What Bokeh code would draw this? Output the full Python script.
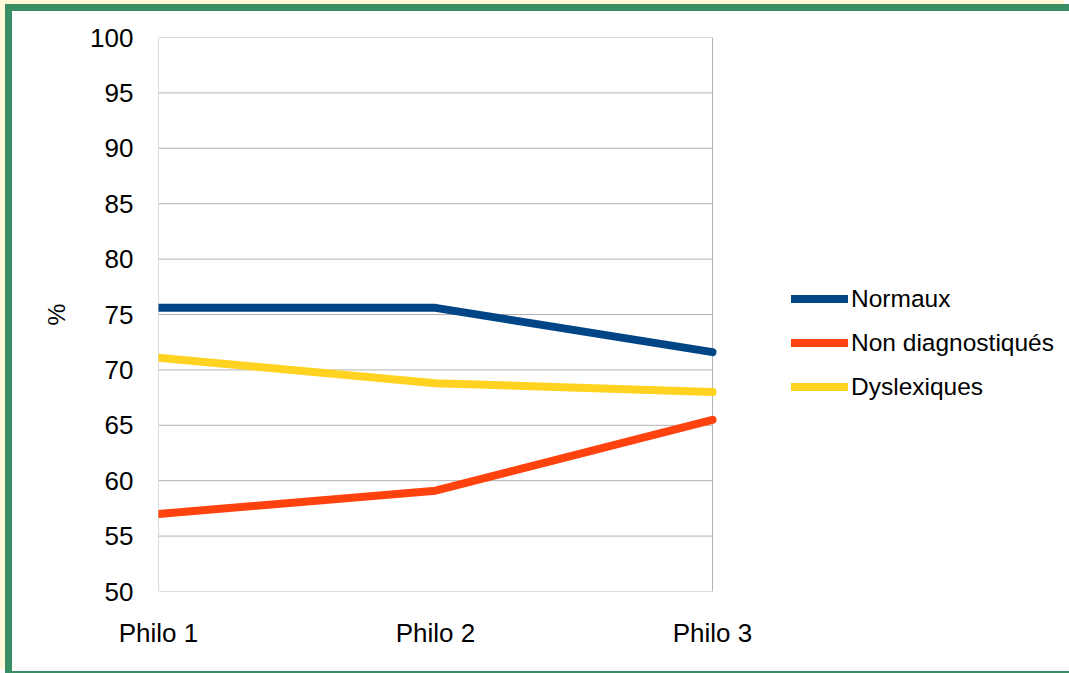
from bokeh.plotting import figure
from bokeh.models import Range1d, FixedTicker, Legend, LegendItem
from bokeh.embed import file_html
from bokeh.resources import INLINE

categories = ["Philo 1", "Philo 2", "Philo 3"]
normaux = [75.6, 75.6, 71.6]
non_diag = [57.0, 59.1, 65.5]
dyslexiques = [71.1, 68.8, 68.0]
series_names = ["Normaux", "Non diagnostiqués", "Dyslexiques"]
colors = ["#004586", "#ff420e", "#ffd320"]
y_ticks = [50, 55, 60, 65, 70, 75, 80, 85, 90, 95, 100]

FONT = "Liberation Sans"
FS = "26px"
LFS = "24.5px"
GREEN = "#3a8e66"
GRID = "#b3b3b3"
PAGE_BG = "#fff9d6"

xs = list(range(len(categories)))
x_last = len(categories) - 1

W, H = 1064, 669
LEFT, TOP, PLOT = 146, 26, 554
frame_w = W - LEFT
x_end = x_last * frame_w / PLOT  # plot area covers [0, x_last]; rest hosts the legend

p = figure(width=W, height=H, output_backend="svg", toolbar_location=None,
           x_range=Range1d(0, x_end), y_range=Range1d(y_ticks[0], y_ticks[-1]))
p.styles = {"border-top": f"7px solid {GREEN}", "border-left": f"7px solid {GREEN}",
            "border-bottom": f"2px solid {GREEN}", "margin-left": "5px", "margin-top": "4px",
            "box-shadow": f"-5px -4px 0px 0px {PAGE_BG}"}
p.min_border_left = LEFT
p.min_border_right = 0
p.min_border_top = TOP
p.min_border_bottom = H - TOP - PLOT
p.background_fill_color = "white"
p.border_fill_color = "white"
p.outline_line_color = None

p.xgrid.grid_line_color = None
p.ygrid.grid_line_color = None

# plot-area grid and border
p.segment(x0=[0] * len(y_ticks), y0=y_ticks, x1=[x_last] * len(y_ticks), y1=y_ticks,
          line_color=GRID, line_width=1)
p.segment(x0=[0, x_last], y0=[y_ticks[0]] * 2, x1=[0, x_last], y1=[y_ticks[-1]] * 2,
          line_color=GRID, line_width=1)

p.xaxis.ticker = FixedTicker(ticks=xs)
p.xaxis.major_label_overrides = {i: c for i, c in enumerate(categories)}
p.yaxis.ticker = FixedTicker(ticks=y_ticks)
for ax in (p.xaxis, p.yaxis):
    ax.axis_line_color = None
    ax.major_tick_line_color = None
    ax.minor_tick_line_color = None
    ax.major_label_text_font = FONT
    ax.major_label_text_font_size = FS
    ax.major_label_text_color = "black"
p.xaxis.major_label_standoff = 20
p.yaxis.major_label_standoff = 19
p.yaxis.axis_label = "%"
p.yaxis.axis_label_text_font = FONT
p.yaxis.axis_label_text_font_size = LFS
p.yaxis.axis_label_text_font_style = "normal"
p.yaxis.axis_label_text_color = "black"
p.yaxis.axis_label_standoff = 17

renderers = []
for name, vals, col in zip(series_names, [normaux, non_diag, dyslexiques], colors):
    r = p.line(xs, vals, line_color=col, line_width=8, line_cap="round")
    renderers.append(r)

legend = Legend(items=[LegendItem(label=n, renderers=[r]) for n, r in zip(series_names, renderers)],
                location=(633, 190))
legend.label_text_font = FONT
legend.label_text_font_size = LFS
legend.label_text_color = "black"
legend.glyph_width = 57
legend.glyph_height = 29
legend.label_height = 29
legend.label_standoff = 3
legend.spacing = 15
legend.padding = 0
legend.margin = 0
legend.border_line_alpha = 0
legend.background_fill_alpha = 0
p.add_layout(legend, "center")

open("out.html", "w").write(file_html(p, INLINE))
